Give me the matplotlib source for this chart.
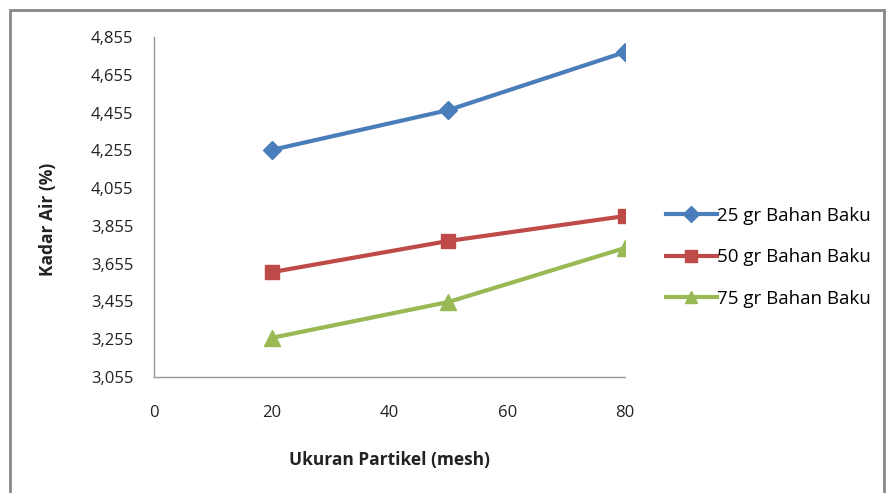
import matplotlib.pyplot as plt
from matplotlib.ticker import FixedLocator, FuncFormatter
from matplotlib.patches import Rectangle

plt.rcParams['font.family'] = ['Open Sans', 'DejaVu Sans']

# Ukuran partikel (mesh)
mesh = [20, 50, 80]

# Kadar air (%) untuk tiap jumlah bahan baku
kadar_25 = [4.257, 4.468, 4.775]
kadar_50 = [3.610, 3.775, 3.907]
kadar_75 = [3.262, 3.452, 3.738]

labels = ['25 gr Bahan Baku', '50 gr Bahan Baku', '75 gr Bahan Baku']
y_ticks = [3.055, 3.255, 3.455, 3.655, 3.855, 4.055, 4.255, 4.455, 4.655, 4.855]
x_ticks = [0, 20, 40, 60, 80]

fig = plt.figure(figsize=(8.88, 4.93), dpi=100)
ax = fig.add_axes([0.1734, 0.2353, 0.5304, 0.6897])

l1, = ax.plot(mesh, kadar_25, marker='D', color='#4A7EBB', lw=3, ms=9, label=labels[0])
l2, = ax.plot(mesh, kadar_50, marker='s', color='#BE4B48', lw=3, ms=10, label=labels[1])
l3, = ax.plot(mesh, kadar_75, marker='^', color='#98B954', lw=3, ms=11, label=labels[2])

ax.set_xlim(0, 80)
ax.set_ylim(3.055, 4.855)
ax.xaxis.set_major_locator(FixedLocator(x_ticks))
ax.yaxis.set_major_locator(FixedLocator(y_ticks))
ax.yaxis.set_major_formatter(FuncFormatter(lambda v, p: f'{v:.3f}'.replace('.', ',')))
ax.tick_params(length=0, labelsize=12, colors='#222222')
ax.tick_params(axis='y', pad=15)
ax.tick_params(axis='x', pad=20)

for s in ['top', 'right']:
    ax.spines[s].set_visible(False)
for s in ['left', 'bottom']:
    ax.spines[s].set_color('#999999')
    ax.spines[s].set_linewidth(1)

ax.set_xlabel('Ukuran Partikel (mesh)', fontsize=12.5, fontweight='bold', color='#222222')
ax.set_ylabel('Kadar Air (%)', fontsize=12.5, fontweight='bold', color='#222222')
ax.xaxis.set_label_coords(0.499, -0.244)
ax.xaxis.label.set_va('center')
ax.yaxis.set_label_coords(-0.225, 0.465)
ax.yaxis.label.set_va('center')

fig.legend(handles=[l1, l2, l3], loc='center left', bbox_to_anchor=(0.750, 0.478),
           frameon=False, fontsize=13.5, handlelength=2.7, handletextpad=0.0,
           labelspacing=1.25, borderaxespad=0, borderpad=0, markerscale=0.85)

fig.patches.append(Rectangle((0.011, -0.01), 0.985, 0.99, transform=fig.transFigure,
                             fill=False, edgecolor='#888888', lw=2))

fig.savefig('out.png', dpi=100)
